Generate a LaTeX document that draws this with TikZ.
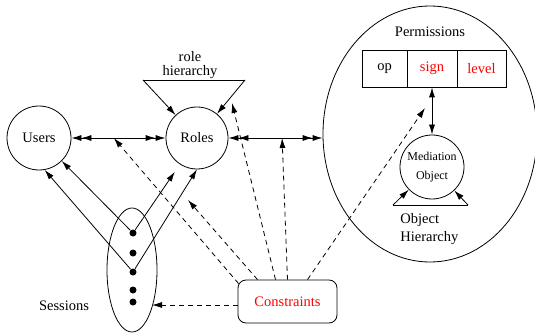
\documentclass[tikz,border=0pt]{standalone}
\usepackage{fontspec}
\setmainfont{Liberation Serif}
\usetikzlibrary{arrows.meta,shapes.geometric,calc}
\begin{document}
\begin{tikzpicture}[x=1pt,y=-1pt, line width=0.8pt,
  every node/.style={font=\fontsize{14.5}{17}\selectfont},
  circ/.style={draw,circle,inner sep=0pt},
  tip/.style={-{Latex[length=10pt,width=6pt]}},
  dbl/.style={{Latex[length=10pt,width=6pt]Latex[length=10pt,width=6pt]}-{Latex[length=10pt,width=6pt]Latex[length=10pt,width=6pt]}},
  both/.style={{Latex[length=10pt,width=6pt]}-{Latex[length=10pt,width=6pt]}},
  dsh/.style={dash pattern=on 5pt off 4pt, -{Latex[length=10pt,width=6pt]}},
  cell/.style={draw,rectangle,minimum height=37pt,inner sep=0pt},
  dot/.style={circle,fill,inner sep=0pt,minimum size=7pt}]
\useasboundingbox (0,0) rectangle (535,334);

% main nodes
\node[circ,minimum size=64pt] (users) at (39,138) {Users};
\node[circ,minimum size=62pt] (roles) at (197,138) {Roles};
\node[draw,ellipse,minimum width=214pt,minimum height=256pt,inner sep=0pt] (perm) at (430,134) {};
\node (permlbl) at (430,32) {Permissions};
\node[cell,minimum width=45pt] (op) at (384.5,68.5) {op};
\node[cell,minimum width=50pt,text=red] (sign) at (432,68.5) {sign};
\node[cell,minimum width=49pt,text=red] (level) at (481.5,68.5) {level};
\node[circ,minimum size=64pt,align=center,font=\fontsize{12}{19}\selectfont] (med) at (432,167) {Mediation\\Object};

% object hierarchy
\coordinate (oh1) at (393,205);
\coordinate (oh2) at (468,205);
\draw (oh1) -- (oh2);
\draw[tip] (oh1) -- (med);
\draw[tip] (oh2) -- (med);
\node[align=left,anchor=west,inner sep=0pt,font=\fontsize{14.5}{18}\selectfont] (ohlbl) at (400,229) {Object\\Hierarchy};
\draw[both] (sign.south) -- (med.north);

% role hierarchy
\coordinate (rh1) at (143,80);
\coordinate (rh2) at (245,80);
\draw (rh1) -- (rh2);
\draw[tip] (rh1) -- (roles);
\draw[tip] (rh2) -- (roles);
\node[align=center,font=\fontsize{14.5}{14}\selectfont] (rhlbl) at (190,65) {role\\hierarchy};

% sessions
\node[draw,ellipse,minimum width=50pt,minimum height=124pt,inner sep=0pt] (sess) at (132,270) {};
\node[dot] (d1) at (133,233) {};
\node[dot] (d2) at (133,253) {};
\node[dot] (d3) at (133,272) {};
\node[dot] (d4) at (133,290) {};
\node[dot] (d5) at (133,302) {};
\node (sesslbl) at (64,306) {Sessions};

% constraints
\node[draw,rounded corners=8pt,minimum width=99pt,minimum height=43pt,text=red] (cons) at (287.5,301.5) {Constraints};

% session connectors
\draw[tip] (d1) -- (users);
\draw[tip,shorten >=9pt] (d1) -- (roles.237);
\draw[tip] (d3) -- (users.280);
\draw[tip] (d3) -- (roles.south);

% horizontal connectors
\draw[dbl] (users) -- (roles);
\draw[dbl] (roles.east) -- (roles.east -| perm.west);

% dashed constraint arrows
\coordinate (urm) at ($(users.east)!0.45!(roles.west)$);
\coordinate (rpm) at ($(roles.east)!0.57!(roles.east -| perm.west)$);
\coordinate (t1) at (188,200);
\coordinate (t2) at (232,103);
\coordinate (t3) at (425,108);
\coordinate (sesstip) at (152,305);
\draw[dsh] ($(cons.north west)+(1,4)$) -- (urm);
\draw[dsh] ($(cons.north)+(-30,0)$) -- (t1);
\draw[dsh] ($(cons.north)+(-12,0)$) -- (t2);
\draw[dsh] (cons.north) -- (rpm);
\draw[dsh] ($(cons.north)+(20,0)$) -- (t3);
\draw[dsh] ($(cons.west)+(0,3.5)$) -- (sesstip);
\end{tikzpicture}
\end{document}
